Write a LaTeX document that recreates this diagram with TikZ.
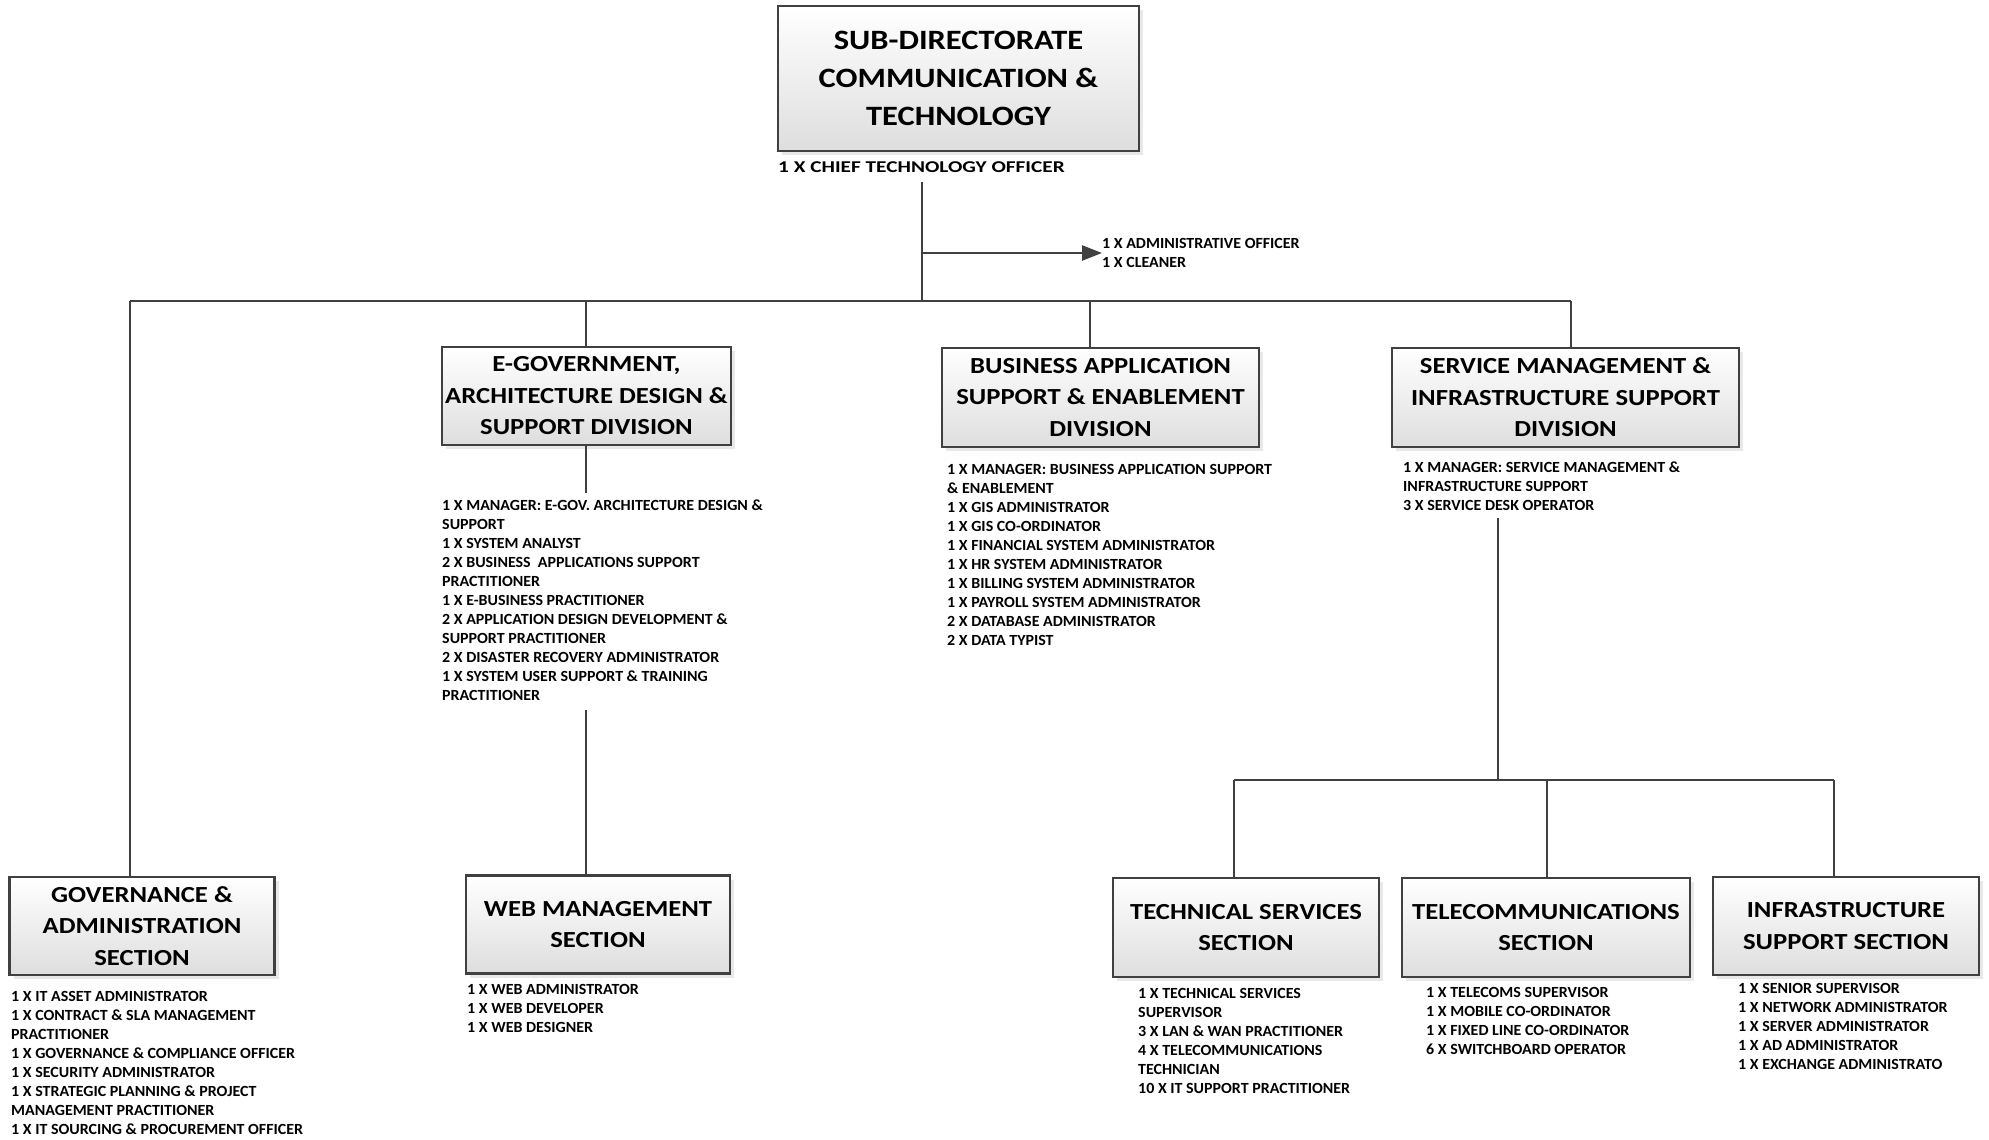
\documentclass[tikz,border=0pt]{standalone}
\usepackage{fontspec}
\setmainfont{Carlito}[FakeStretch=1.03]
\newfontfamily\boxfont{Carlito}[FakeStretch=1.16]
\newfontfamily\ctofont{Carlito}[FakeStretch=1.29]
\usetikzlibrary{shadows,arrows.meta}

\definecolor{linegray}{HTML}{404040}
\tikzset{
  unitbox/.style={rectangle, draw=linegray, line width=2.5pt,
          shading=axis, top color=white, bottom color=black!13,
          drop shadow={shadow xshift=4pt, shadow yshift=-4pt, fill=black!18},
          align=center, inner sep=0pt},
  topfont/.style={font=\boxfont\fontsize{28}{38}\selectfont\bfseries},
  unitfont/.style={font=\boxfont\fontsize{23}{31.5}\selectfont\bfseries},
  stafflist/.style={align=left, anchor=north west, inner sep=0pt,
          font=\fontsize{15.5}{19}\selectfont\bfseries},
  link/.style={draw=linegray, line width=2.5pt}
}

\begin{document}
\begin{tikzpicture}[x=1pt,y=-1pt]
\useasboundingbox (0,0) rectangle (1989,1140);

\node[unitbox, topfont,
          minimum width=361pt, minimum height=145pt] (sdct)
          at (958.5,78.5) {SUB-DIRECTORATE\\COMMUNICATION \&\\TECHNOLOGY};
\node[stafflist, anchor=west, font=\ctofont\fontsize{16.5}{20}\selectfont\bfseries] (cto)
          at (778,167) {1 X CHIEF TECHNOLOGY OFFICER};
\node[stafflist, anchor=west] (admin)
          at (1102,253) {1 X ADMINISTRATIVE OFFICER\\1 X CLEANER};

\node[unitbox, unitfont,
          minimum width=289pt, minimum height=98pt] (egov)
          at (586.5,396) {E-GOVERNMENT,\\ARCHITECTURE DESIGN \&\\SUPPORT DIVISION};
\node[unitbox, unitfont,
          minimum width=317pt, minimum height=99pt] (basd)
          at (1100.5,397.5) {BUSINESS APPLICATION\\SUPPORT \& ENABLEMENT\\DIVISION};
\node[unitbox, unitfont,
          minimum width=347pt, minimum height=99pt] (smis)
          at (1565.5,397.5) {SERVICE MANAGEMENT \&\\INFRASTRUCTURE SUPPORT\\DIVISION};

\node[stafflist] (egovstaff) at (442,500)
          {1 X MANAGER: E-GOV. ARCHITECTURE DESIGN \&\\SUPPORT\\
           1 X SYSTEM ANALYST\\
           2 X BUSINESS\ \ APPLICATIONS SUPPORT\\PRACTITIONER\\
           1 X E-BUSINESS PRACTITIONER\\
           2 X APPLICATION DESIGN DEVELOPMENT \&\\SUPPORT PRACTITIONER\\
           2 X DISASTER RECOVERY ADMINISTRATOR\\
           1 X SYSTEM USER SUPPORT \& TRAINING\\PRACTITIONER};
\node[stafflist] (basdstaff) at (947,464)
          {1 X MANAGER: BUSINESS APPLICATION SUPPORT\\\& ENABLEMENT\\
           1 X GIS ADMINISTRATOR\\
           1 X GIS CO-ORDINATOR\\
           1 X FINANCIAL SYSTEM ADMINISTRATOR\\
           1 X HR SYSTEM ADMINISTRATOR\\
           1 X BILLING SYSTEM ADMINISTRATOR\\
           1 X PAYROLL SYSTEM ADMINISTRATOR\\
           2 X DATABASE ADMINISTRATOR\\
           2 X DATA TYPIST};
\node[stafflist] (smisstaff) at (1403,462)
          {1 X MANAGER: SERVICE MANAGEMENT \&\\INFRASTRUCTURE SUPPORT\\
           3 X SERVICE DESK OPERATOR};

\node[unitbox, unitfont,
          minimum width=265pt, minimum height=98pt] (gov)
          at (142,926) {GOVERNANCE \&\\ADMINISTRATION\\SECTION};
\node[unitbox, unitfont,
          minimum width=264pt, minimum height=98pt] (web)
          at (598,924.5) {WEB MANAGEMENT\\SECTION};
\node[unitbox, unitfont,
          minimum width=266pt, minimum height=99pt] (tech)
          at (1246,927.5) {TECHNICAL SERVICES\\SECTION};
\node[unitbox, unitfont,
          minimum width=288pt, minimum height=99pt] (tele)
          at (1546,927.5) {TELECOMMUNICATIONS\\SECTION};
\node[unitbox, unitfont,
          minimum width=266pt, minimum height=98pt] (infra)
          at (1846,926) {INFRASTRUCTURE\\SUPPORT SECTION};

\node[stafflist] (govstaff) at (11,991)
          {1 X IT ASSET ADMINISTRATOR\\
           1 X CONTRACT \& SLA MANAGEMENT\\PRACTITIONER\\
           1 X GOVERNANCE \& COMPLIANCE OFFICER\\
           1 X SECURITY ADMINISTRATOR\\
           1 X STRATEGIC PLANNING \& PROJECT\\MANAGEMENT PRACTITIONER\\
           1 X IT SOURCING \& PROCUREMENT OFFICER};
\node[stafflist] (webstaff) at (467,984)
          {1 X WEB ADMINISTRATOR\\1 X WEB DEVELOPER\\1 X WEB DESIGNER};
\node[stafflist] (techstaff) at (1138,988)
          {1 X TECHNICAL SERVICES\\SUPERVISOR\\
           3 X LAN \& WAN PRACTITIONER\\
           4 X TELECOMMUNICATIONS\\TECHNICIAN\\
           10 X IT SUPPORT PRACTITIONER};
\node[stafflist] (telestaff) at (1426,987)
          {1 X TELECOMS SUPERVISOR\\
           1 X MOBILE CO-ORDINATOR\\
           1 X FIXED LINE CO-ORDINATOR\\
           6 X SWITCHBOARD OPERATOR};
\node[stafflist] (infrastaff) at (1738,983)
          {1 X SENIOR SUPERVISOR\\
           1 X NETWORK ADMINISTRATOR\\
           1 X SERVER ADMINISTRATOR\\
           1 X AD ADMINISTRATOR\\
           1 X EXCHANGE ADMINISTRATO};

\coordinate (fork) at (922,253);
\coordinate (busG) at (130,301);
\coordinate (busE) at (586,301);
\coordinate (busC) at (922,301);
\coordinate (busB) at (1090,301);
\coordinate (busS) at (1571,301);
\coordinate (subT) at (1234,780);
\coordinate (subM) at (1498,780);
\coordinate (subC) at (1547,780);
\coordinate (subI) at (1834,780);

\draw[link, shorten <=9pt] (busC |- cto.south) -- (busC);
\draw[link, -{Triangle[length=20pt,width=15pt]}] (fork) -- (admin.west);
\draw[link] (busG) -- (busS);
\draw[link] (busG) -- (busG |- gov.north);
\draw[link] (busE) -- (busE |- egov.north);
\draw[link] (busB) -- (busB |- basd.north);
\draw[link] (busS) -- (busS |- smis.north);
\draw[link, shorten >=7pt] (busE |- egov.south) -- (busE |- egovstaff.north);
\draw[link, shorten <=9pt] (busE |- egovstaff.south) -- (busE |- web.north);
\draw[link, shorten <=7pt] (subM |- smisstaff.south) -- (subM);
\draw[link] (subT) -- (subI);
\draw[link] (subT) -- (subT |- tech.north);
\draw[link] (subC) -- (subC |- tele.north);
\draw[link] (subI) -- (subI |- infra.north);
\end{tikzpicture}
\end{document}
